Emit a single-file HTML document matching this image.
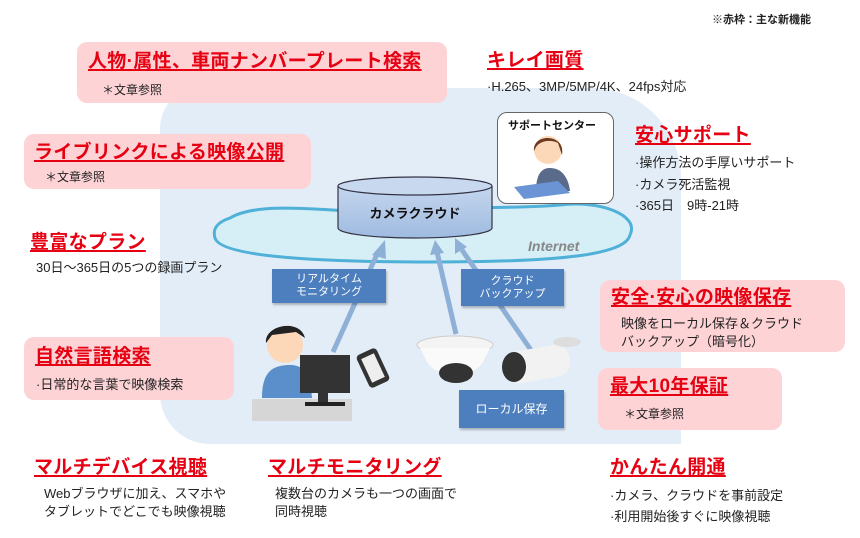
<!DOCTYPE html>
<html><head><meta charset="utf-8"><style>
body{margin:0;width:860px;height:538px;position:relative;background:#fff;font-family:"Liberation Sans","Noto Sans CJK JP",sans-serif;overflow:hidden;color:#222}
.a{position:absolute;white-space:nowrap}
.box{position:absolute;background:#fdd3d6;border-radius:10px}
.t{position:absolute;white-space:nowrap;color:#e60012;font-weight:bold;font-size:19px;text-decoration:underline;text-decoration-thickness:2px;text-underline-offset:2px;line-height:22px;letter-spacing:0.3px}
.s{position:absolute;white-space:nowrap;font-size:13px;line-height:18px;color:#222}
.lb{position:absolute;background:#4d7fbf;color:#fff;font-size:11px;line-height:13px;text-align:center;display:flex;align-items:center;justify-content:center;box-shadow:1px 2px 2px rgba(0,0,0,.25)}
</style></head><body>
<div class="a" style="left:160px;top:88px;width:521px;height:356px;background:#e3edf8;border-radius:40px 90px 0 50px"></div>
<div style="position:absolute;left:681px;top:280px;width:0"></div>

<svg class="a" style="left:0;top:0" width="860" height="538">
<defs><linearGradient id="cy" x1="0" y1="0" x2="0" y2="1"><stop offset="0" stop-color="#c5d6ee"/><stop offset="1" stop-color="#9fbbe0"/></linearGradient></defs>
<path d="M230,218 C260,200 330,212 380,212 C440,205 500,210 560,205 C600,200 640,215 630,235 C625,255 560,262 430,262 C300,262 220,255 215,238 C212,228 218,222 230,218Z" fill="#d6eef6" stroke="#4fb0d8" stroke-width="3"/>
<text x="528" y="251" font-family="Liberation Sans" font-style="italic" font-weight="bold" font-size="14" fill="#888">Internet</text>
<path d="M338,186 L338,228 A77,10 0 0 0 492,228 L492,186" fill="url(#cy)" stroke="#334" stroke-width="1.2"/>
<ellipse cx="415" cy="186" rx="77" ry="9" fill="#c8d8ee" stroke="#334" stroke-width="1.2"/>
<text x="415" y="218" text-anchor="middle" font-size="13" font-weight="bold" fill="#111" font-family="Liberation Sans,Noto Sans CJK JP">カメラクラウド</text>
<g stroke="#8fb0d6" stroke-width="5" fill="#8fb0d6">
<line x1="333" y1="352" x2="378" y2="252"/><polygon points="372,255 385,240 386,259" stroke="none"/>
<line x1="456" y1="334" x2="437" y2="252"/><polygon points="430,255 435,240 444,253" stroke="none"/>
<line x1="533" y1="353" x2="462" y2="250"/><polygon points="455,254 455,238 467,247" stroke="none"/>
</g>
<!-- person -->
<rect x="252" y="399" width="100" height="22" fill="#d6d6d6"/>
<circle cx="285" cy="345" r="18" fill="#fcd8b8"/>
<path d="M266,343 C264,325 300,318 305,338 L296,332 L272,335Z" fill="#222"/>
<path d="M262,398 C262,372 272,365 290,365 C305,365 310,375 312,398Z" fill="#5b8fcc"/>
<rect x="300" y="355" width="50" height="38" fill="#333"/>
<rect x="318" y="393" width="10" height="10" fill="#333"/><rect x="305" y="402" width="40" height="4" fill="#222"/>
<rect x="362" y="350" width="22" height="36" rx="4" fill="#333" transform="rotate(-25 373 368)"/>
<rect x="366" y="355" width="14" height="26" fill="#eee" transform="rotate(-25 373 368)"/>
<!-- dome -->
<ellipse cx="455" cy="345" rx="38" ry="9" fill="#f4f4f4" stroke="#ccc"/>
<path d="M420,348 L490,348 L484,360 C475,380 435,380 426,360Z" fill="#fafafa"/>
<ellipse cx="456" cy="373" rx="17" ry="10" fill="#333"/>
<!-- bullet -->
<rect x="505" y="348" width="65" height="32" rx="14" fill="#f2f2f2" transform="rotate(-10 537 364)"/>
<ellipse cx="514" cy="367" rx="12" ry="15" fill="#333"/>
<ellipse cx="567" cy="342" rx="14" ry="5" fill="#ddd"/>
</svg>

<div class="a" style="left:497px;top:112px;width:117px;height:92px;background:#fff;border:1px solid #666;border-radius:10px;box-sizing:border-box"></div>
<div class="a" style="left:508px;top:117px;font-size:11px;font-weight:bold;color:#111">サポートセンター</div>
<svg class="a" style="left:510px;top:133px" width="90" height="68">
<circle cx="38" cy="17" r="14" fill="#fcd8b8"/><path d="M24,18 C22,0 56,0 52,22 L48,10 C40,6 30,8 26,14Z" fill="#6b3a1f"/>
<path d="M26,58 C26,38 34,35 40,35 C50,35 58,42 60,58Z" fill="#5a6a8a"/>
<path d="M4,54 L48,48 L60,60 L14,66Z" fill="#6a94d4"/>
</svg>

<div class="lb" style="left:272px;top:269px;width:114px;height:34px">リアルタイム<br>モニタリング</div>
<div class="lb" style="left:461px;top:269px;width:103px;height:37px">クラウド<br>バックアップ</div>
<div class="lb" style="left:459px;top:390px;width:105px;height:38px;font-size:12px">ローカル保存</div>

<div class="a" style="left:712px;top:11px;font-size:11px;font-weight:bold;color:#222">※赤枠：主な新機能</div>

<div class="box" style="left:77px;top:42px;width:370px;height:61px"></div>
<div class="t" style="left:88px;top:51px">人物·属性、車両ナンバープレート検索</div>
<div class="s" style="left:102px;top:81px;font-size:12px">＊文章参照</div>

<div class="box" style="left:24px;top:134px;width:287px;height:55px"></div>
<div class="t" style="left:34px;top:142px">ライブリンクによる映像公開</div>
<div class="s" style="left:45px;top:168px;font-size:12px">＊文章参照</div>

<div class="t" style="left:30px;top:232px">豊富なプラン</div>
<div class="s" style="left:36px;top:259px">30日～365日の5つの録画プラン</div>

<div class="box" style="left:24px;top:337px;width:210px;height:63px"></div>
<div class="t" style="left:35px;top:346px">自然言語検索</div>
<div class="s" style="left:36px;top:376px">·日常的な言葉で映像検索</div>

<div class="t" style="left:34px;top:457px">マルチデバイス視聴</div>
<div class="s" style="left:44px;top:485px;line-height:18px">Webブラウザに加え、スマホや<br>タブレットでどこでも映像視聴</div>

<div class="t" style="left:268px;top:457px">マルチモニタリング</div>
<div class="s" style="left:275px;top:485px">複数台のカメラも一つの画面で<br>同時視聴</div>

<div class="t" style="left:610px;top:457px">かんたん開通</div>
<div class="s" style="left:610px;top:485px;line-height:21px">·カメラ、クラウドを事前設定<br>·利用開始後すぐに映像視聴</div>

<div class="t" style="left:487px;top:50px">キレイ画質</div>
<div class="s" style="left:487px;top:78px">·H.265、3MP/5MP/4K、24fps対応</div>

<div class="t" style="left:635px;top:125px">安心サポート</div>
<div class="s" style="left:635px;top:152px;line-height:21.5px">·操作方法の手厚いサポート<br>·カメラ死活監視<br>·365日　9時-21時</div>

<div class="box" style="left:600px;top:280px;width:245px;height:72px"></div>
<div class="t" style="left:611px;top:287px">安全·安心の映像保存</div>
<div class="s" style="left:621px;top:315px;line-height:18px">映像をローカル保存＆クラウド<br>バックアップ（暗号化）</div>

<div class="box" style="left:598px;top:368px;width:184px;height:62px"></div>
<div class="t" style="left:610px;top:376px">最大10年保証</div>
<div class="s" style="left:624px;top:405px;font-size:12px">＊文章参照</div>
</body></html>
